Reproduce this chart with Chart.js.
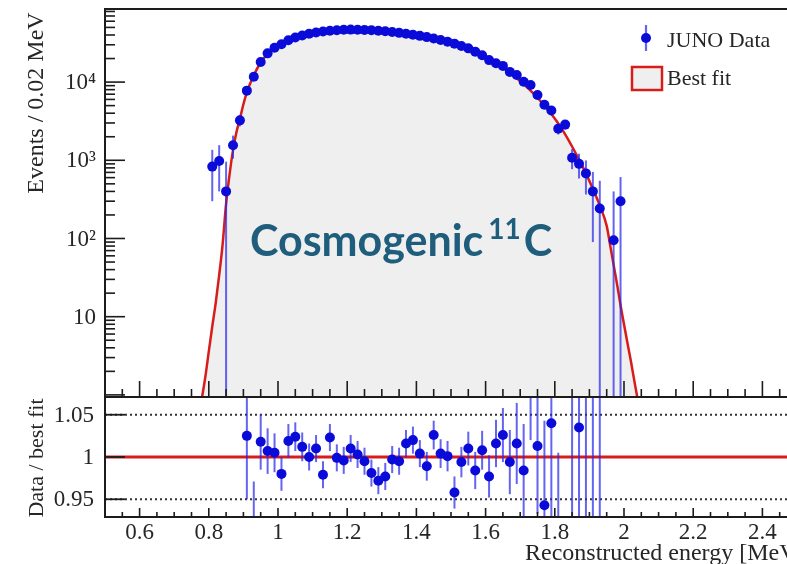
<!DOCTYPE html>
<html><head><meta charset="utf-8">
<script src="https://cdn.jsdelivr.net/npm/chart.js@4/dist/chart.umd.min.js"></script>
<style>
html,body{margin:0;padding:0;background:#fff;overflow:hidden;width:787px;height:564px;}
#wrap{position:relative;width:787px;height:564px;overflow:hidden;background:#fff;}
canvas{position:absolute;left:0;}
#cTop{top:0}
#cBot{top:397px}
</style></head><body>
<div id="wrap"><canvas id="cTop" width="800" height="400"></canvas><canvas id="cBot" width="800" height="167"></canvas></div>
<script>
// ---------- data ----------
const binCenters = [0.81,0.83,0.85,0.87,0.89,0.91,0.93,0.95,0.97,0.99,
  1.01,1.03,1.05,1.07,1.09,1.11,1.13,1.15,1.17,1.19,
  1.21,1.23,1.25,1.27,1.29,1.31,1.33,1.35,1.37,1.39,
  1.41,1.43,1.45,1.47,1.49,1.51,1.53,1.55,1.57,1.59,
  1.61,1.63,1.65,1.67,1.69,1.71,1.73,1.75,1.77,1.79,
  1.81,1.83,1.85,1.87,1.89,1.91,1.93,1.95,1.97,1.99];
const eventCounts = [830,980,400,1560,3240,7770,11700,18100,23300,27500,
  30500,34300,37100,39400,41500,43000,44300,45300,46000,46600,
  46900,46800,46500,46000,45300,44600,43700,42600,41500,40300,
  39000,37600,36100,34500,32800,31000,29000,27000,24500,22000,
  19100,17400,16100,13500,12300,10100,9200,6840,5120,4330,
  2540,2860,1080,900,680,400,242,null,95,300];
const eventErrors = [530,580,560,510,520,550,570,600,620,640,
  650,660,670,680,690,700,700,710,710,720,
  720,720,720,710,710,700,700,690,680,680,
  670,660,650,640,630,620,610,600,590,580,
  570,560,550,540,530,520,510,500,480,460,
  400,380,310,315,315,310,305,null,305,310];
const fitEnergy = [0.76,0.77,0.78,0.79,0.80,0.81,0.82,0.83,0.84,0.85,0.86,0.87,0.88,0.89,0.90,0.91,
  0.93,0.95,0.97,0.99,1.01,1.03,1.05,1.07,1.09,1.11,1.13,1.15,1.17,1.19,
  1.21,1.23,1.25,1.27,1.29,1.31,1.33,1.35,1.37,1.39,1.41,1.43,1.45,1.47,1.49,
  1.51,1.53,1.55,1.57,1.59,1.61,1.63,1.65,1.67,1.69,1.71,1.73,1.75,1.77,1.79,
  1.81,1.83,1.85,1.87,1.89,1.91,1.93,1.95,1.96,1.97,1.98,1.99,2.00,2.01,2.02,2.03,2.04,2.05,2.06];
const fitCounts = [0.2,0.45,0.9,1.7,3.6,7.5,15,34,85,280,660,1350,2300,3400,5200,7400,
  12200,17800,23000,27400,31000,34000,36700,39000,41200,43000,44400,45400,46100,46600,
  46800,46800,46600,46200,45700,45000,44200,43200,42000,40700,39300,37800,36100,34400,32600,
  30700,28700,26600,24400,22100,19800,17500,15300,13200,11200,9400,7800,6300,5000,3900,
  2950,2150,1500,1020,680,430,265,145,82,46,26,14,8,4.6,2.7,1.5,0.85,0.45,0.2];
const ratioEnergy = [0.91,0.93,0.95,0.97,0.99,1.01,1.03,1.05,1.07,1.09,
  1.11,1.13,1.15,1.17,1.19,1.21,1.23,1.25,1.27,1.29,
  1.31,1.33,1.35,1.37,1.39,1.41,1.43,1.45,1.47,1.49,
  1.51,1.53,1.55,1.57,1.59,1.61,1.63,1.65,1.67,1.69,
  1.71,1.73,1.75,1.77,1.79,1.81,1.83,1.85,1.87,1.89,1.91,1.93];
const ratioValues = [1.025,0.900,1.018,1.007,1.005,0.980,1.019,1.024,1.012,1.000,
  1.010,0.979,1.023,0.999,0.996,1.010,1.003,0.995,0.981,0.972,
  0.977,0.997,0.995,1.016,1.020,1.004,0.989,1.026,1.004,1.001,
  0.958,0.994,1.010,0.984,1.008,0.977,1.016,1.026,0.994,1.016,
  0.984,1.085,1.013,0.943,1.040,0.915,null,0.850,1.035,0.850,0.850,0.850];
const ratioErrors = [0.075,0.071,0.033,0.027,0.023,0.020,0.020,0.017,0.017,0.016,
  0.016,0.016,0.016,0.016,0.016,0.016,0.016,0.016,0.016,0.016,
  0.016,0.016,0.016,0.016,0.016,0.016,0.017,0.017,0.017,0.018,
  0.019,0.018,0.020,0.022,0.023,0.025,0.028,0.032,0.038,0.048,
  0.055,0.065,0.080,0.100,0.110,0.090,null,0.300,0.250,0.300,0.300,0.300];
const xTickValues = [0.6,0.8,1.0,1.2,1.4,1.6,1.8,2.0,2.2,2.4];
const xTickLabels = ['0.6','0.8','1','1.2','1.4','1.6','1.8','2','2.2','2.4'];
const yTopTickValues = [10,100,1000,10000];
const yTopTickLabels = ['10','10\u00B2','10\u00B3','10\u2074'];
const yBotTickValues = [0.95,1.0,1.05];
const yBotTickLabels = ['0.95','1','1.05'];
const unityLevel = [1];
const dottedLevels = [0.95,1.05];

// ---------- styles ----------
const SERIF = '"Liberation Serif","Times New Roman",serif';
const BLUE = '#0b0bd9';
const BAR = 'rgba(40,40,235,0.72)';
const RED = '#d81c1c';
const INK = '#1c1c1c';
const LABEL = '#262626';
const TICKFONT = '23px ' + SERIF;

function clipArea(ctx,a){ctx.beginPath();ctx.rect(a.left,a.top,a.right-a.left,a.bottom-a.top);ctx.clip();}

function drawErrors(chart,xs,ys,es){
  const {ctx,chartArea:a,scales}=chart; const xS=scales.x,yS=scales.y;
  ctx.save(); clipArea(ctx,a); ctx.strokeStyle=BAR; ctx.lineWidth=2;
  xs.forEach((xv,i)=>{const v=ys[i],e=es[i]; if(v==null||e==null) return;
    const px=xS.getPixelForValue(xv);
    const top=yS.getPixelForValue(v+e);
    const lo=v-e;
    const bot=(yS.type==='logarithmic'&&lo<=0)?a.bottom+10:yS.getPixelForValue(lo);
    ctx.beginPath(); ctx.moveTo(px,top); ctx.lineTo(px,bot); ctx.stroke();});
  ctx.restore();
}

function drawXTicks(chart,majLen,minLen){
  const {ctx,chartArea:a,scales:{x}}=chart;
  ctx.save(); ctx.strokeStyle=INK; ctx.lineWidth=1.6;
  for(let k=11;k<50;k++){const v=k*0.05; const px=x.getPixelForValue(v);
    const L=(k%4===0)?majLen:minLen;
    ctx.beginPath(); ctx.moveTo(px,a.bottom); ctx.lineTo(px,a.bottom-L); ctx.stroke();}
  ctx.restore();
}
function drawYLabels(chart,vals,labels,xRight){
  const {ctx,scales:{y}}=chart;
  ctx.save(); ctx.fillStyle=LABEL; ctx.font=TICKFONT; ctx.textAlign='right'; ctx.textBaseline='middle';
  vals.forEach((v,i)=>ctx.fillText(labels[i],xRight,y.getPixelForValue(v)+1));
  ctx.restore();
}
function drawFrame(chart){
  const {ctx,chartArea:a}=chart;
  ctx.save(); ctx.strokeStyle=INK; ctx.lineWidth=2;
  ctx.strokeRect(a.left,a.top,a.right-a.left,a.bottom-a.top);
  ctx.restore();
}

const topDecor={
  id:'topDecor',
  beforeDatasetDraw(chart,args){ if(args.index===0) drawErrors(chart,binCenters,eventCounts,eventErrors); },
  afterDraw(chart){
    const {ctx,chartArea:a,scales:{y}}=chart;
    drawXTicks(chart,16,8);
    ctx.save(); ctx.strokeStyle=INK; ctx.lineWidth=1.6;
    for(let d=0;d<=4;d++){
      for(let m=1;m<=9;m++){
        const v=m*Math.pow(10,d); if(v<y.min||v>y.max) continue;
        const py=y.getPixelForValue(v); const L=(m===1)?20:10;
        ctx.beginPath(); ctx.moveTo(a.left,py); ctx.lineTo(a.left+L,py); ctx.stroke();
      }
    }
    ctx.restore();
    drawFrame(chart);
    drawYLabels(chart,yTopTickValues,yTopTickLabels,96);
    // y title
    ctx.save(); ctx.fillStyle=LABEL; ctx.font='24px '+SERIF;
    ctx.translate(43,103); ctx.rotate(-Math.PI/2); ctx.textAlign='center'; ctx.textBaseline='alphabetic';
    ctx.fillText('Events / 0.02 MeV',0,0); ctx.restore();
    // legend
    ctx.save();
    ctx.strokeStyle=BAR; ctx.lineWidth=2.2;
    ctx.beginPath(); ctx.moveTo(646,25); ctx.lineTo(646,51); ctx.stroke();
    ctx.fillStyle=BLUE; ctx.beginPath(); ctx.arc(646,38,5,0,Math.PI*2); ctx.fill();
    ctx.fillStyle='#efefef'; ctx.fillRect(632,67,30,23);
    ctx.strokeStyle=RED; ctx.lineWidth=2.5; ctx.strokeRect(632,67,30,23);
    ctx.fillStyle=LABEL; ctx.font='22px '+SERIF; ctx.textAlign='left'; ctx.textBaseline='middle';
    ctx.fillText('JUNO Data',667,41); ctx.fillText('Best fit',667,79);
    ctx.restore();
    // annotation
    ctx.save(); ctx.fillStyle='#1f5d7d'; ctx.textBaseline='alphabetic'; ctx.textAlign='left';
    ctx.font='bold 43px Lato, "Open Sans", sans-serif';
    const w=ctx.measureText('Cosmogenic').width;
    ctx.fillText('Cosmogenic',250,256);
    ctx.font='bold 28px Lato, "Open Sans", sans-serif';
    const w2=ctx.measureText('11').width;
    ctx.fillText('11',250+w+5,239);
    ctx.font='bold 43px Lato, "Open Sans", sans-serif';
    ctx.fillText('C',250+w+5+w2+3,256);
    ctx.restore();
  }
};

const botDecor={
  id:'botDecor',
  beforeDatasetDraw(chart,args){ if(args.index===0) drawErrors(chart,ratioEnergy,ratioValues,ratioErrors); },
  afterDraw(chart){
    const {ctx,chartArea:a,scales:{x,y}}=chart;
    drawXTicks(chart,9,5);
    ctx.save(); ctx.strokeStyle=INK; ctx.lineWidth=1.8;
    yBotTickValues.forEach(v=>{const py=y.getPixelForValue(v);
      ctx.beginPath(); ctx.moveTo(a.left,py); ctx.lineTo(a.left+20,py); ctx.stroke();});
    ctx.restore();
    drawFrame(chart);
    drawYLabels(chart,yBotTickValues,yBotTickLabels,94);
    // x tick labels
    ctx.save(); ctx.fillStyle=LABEL; ctx.font=TICKFONT; ctx.textAlign='center'; ctx.textBaseline='top';
    xTickValues.forEach((v,i)=>ctx.fillText(xTickLabels[i],x.getPixelForValue(v),a.bottom+4));
    ctx.restore();
    // y title
    ctx.save(); ctx.fillStyle=LABEL; ctx.font='22px '+SERIF;
    ctx.translate(43,61); ctx.rotate(-Math.PI/2); ctx.textAlign='center';
    ctx.fillText('Data / best fit',0,0); ctx.restore();
    // x title
    ctx.save(); ctx.fillStyle=LABEL; ctx.font='24px '+SERIF; ctx.textAlign='left'; ctx.textBaseline='alphabetic';
    ctx.fillText('Reconstructed energy [MeV]',525,163); ctx.restore();
  }
};

const hiddenAxis = {grid:{display:false,drawTicks:false},border:{display:false},ticks:{display:false}};

new Chart(document.getElementById('cTop'),{
  data:{datasets:[
    {type:'scatter',label:'JUNO Data',
     data:binCenters.map((x,i)=>({x,y:eventCounts[i]})).filter(p=>p.y!=null),
     pointRadius:5,pointHoverRadius:5,pointBackgroundColor:BLUE,pointBorderWidth:0,showLine:false},
    {type:'line',label:'Best fit',
     data:fitEnergy.map((x,i)=>({x,y:fitCounts[i]})),
     borderColor:RED,borderWidth:2.5,pointRadius:0,fill:'start',backgroundColor:'#efefef',
     cubicInterpolationMode:'monotone'}
  ]},
  options:{
    responsive:false,animation:false,devicePixelRatio:1,
    layout:{padding:{top:9,right:3,left:0,bottom:0},autoPadding:false},
    plugins:{legend:{display:false},tooltip:{enabled:false}},
    scales:{
      x:Object.assign({type:'linear',min:0.5,max:2.5,afterFit(s){s.height=3;}},hiddenAxis),
      y:Object.assign({type:'logarithmic',min:0.94,max:86000,afterFit(s){s.width=105;}},hiddenAxis)
    }
  },
  plugins:[topDecor]
});

new Chart(document.getElementById('cBot'),{
  data:{datasets:[
    {type:'scatter',label:'ratio',
     data:ratioEnergy.map((x,i)=>({x,y:ratioValues[i]})).filter(p=>p.y!=null),
     pointRadius:5,pointHoverRadius:5,pointBackgroundColor:BLUE,pointBorderWidth:0,showLine:false,clip:0},
    {type:'line',data:unityLevel.flatMap(v=>[{x:0.5,y:v},{x:2.5,y:v}]),
     borderColor:RED,borderWidth:3,pointRadius:0},
    {type:'line',data:[{x:0.5,y:dottedLevels[0]},{x:2.5,y:dottedLevels[0]}],
     borderColor:'#333',borderWidth:2,borderDash:[2,3],pointRadius:0},
    {type:'line',data:[{x:0.5,y:dottedLevels[1]},{x:2.5,y:dottedLevels[1]}],
     borderColor:'#333',borderWidth:2,borderDash:[2,3],pointRadius:0}
  ]},
  options:{
    responsive:false,animation:false,devicePixelRatio:1,
    layout:{padding:{top:0,right:3,left:0,bottom:0},autoPadding:false},
    plugins:{legend:{display:false},tooltip:{enabled:false}},
    scales:{
      x:Object.assign({type:'linear',min:0.5,max:2.5,afterFit(s){s.height=47;}},hiddenAxis),
      y:Object.assign({type:'linear',min:0.929,max:1.071,afterFit(s){s.width=105;}},hiddenAxis)
    }
  },
  plugins:[botDecor]
});
</script></body></html>
